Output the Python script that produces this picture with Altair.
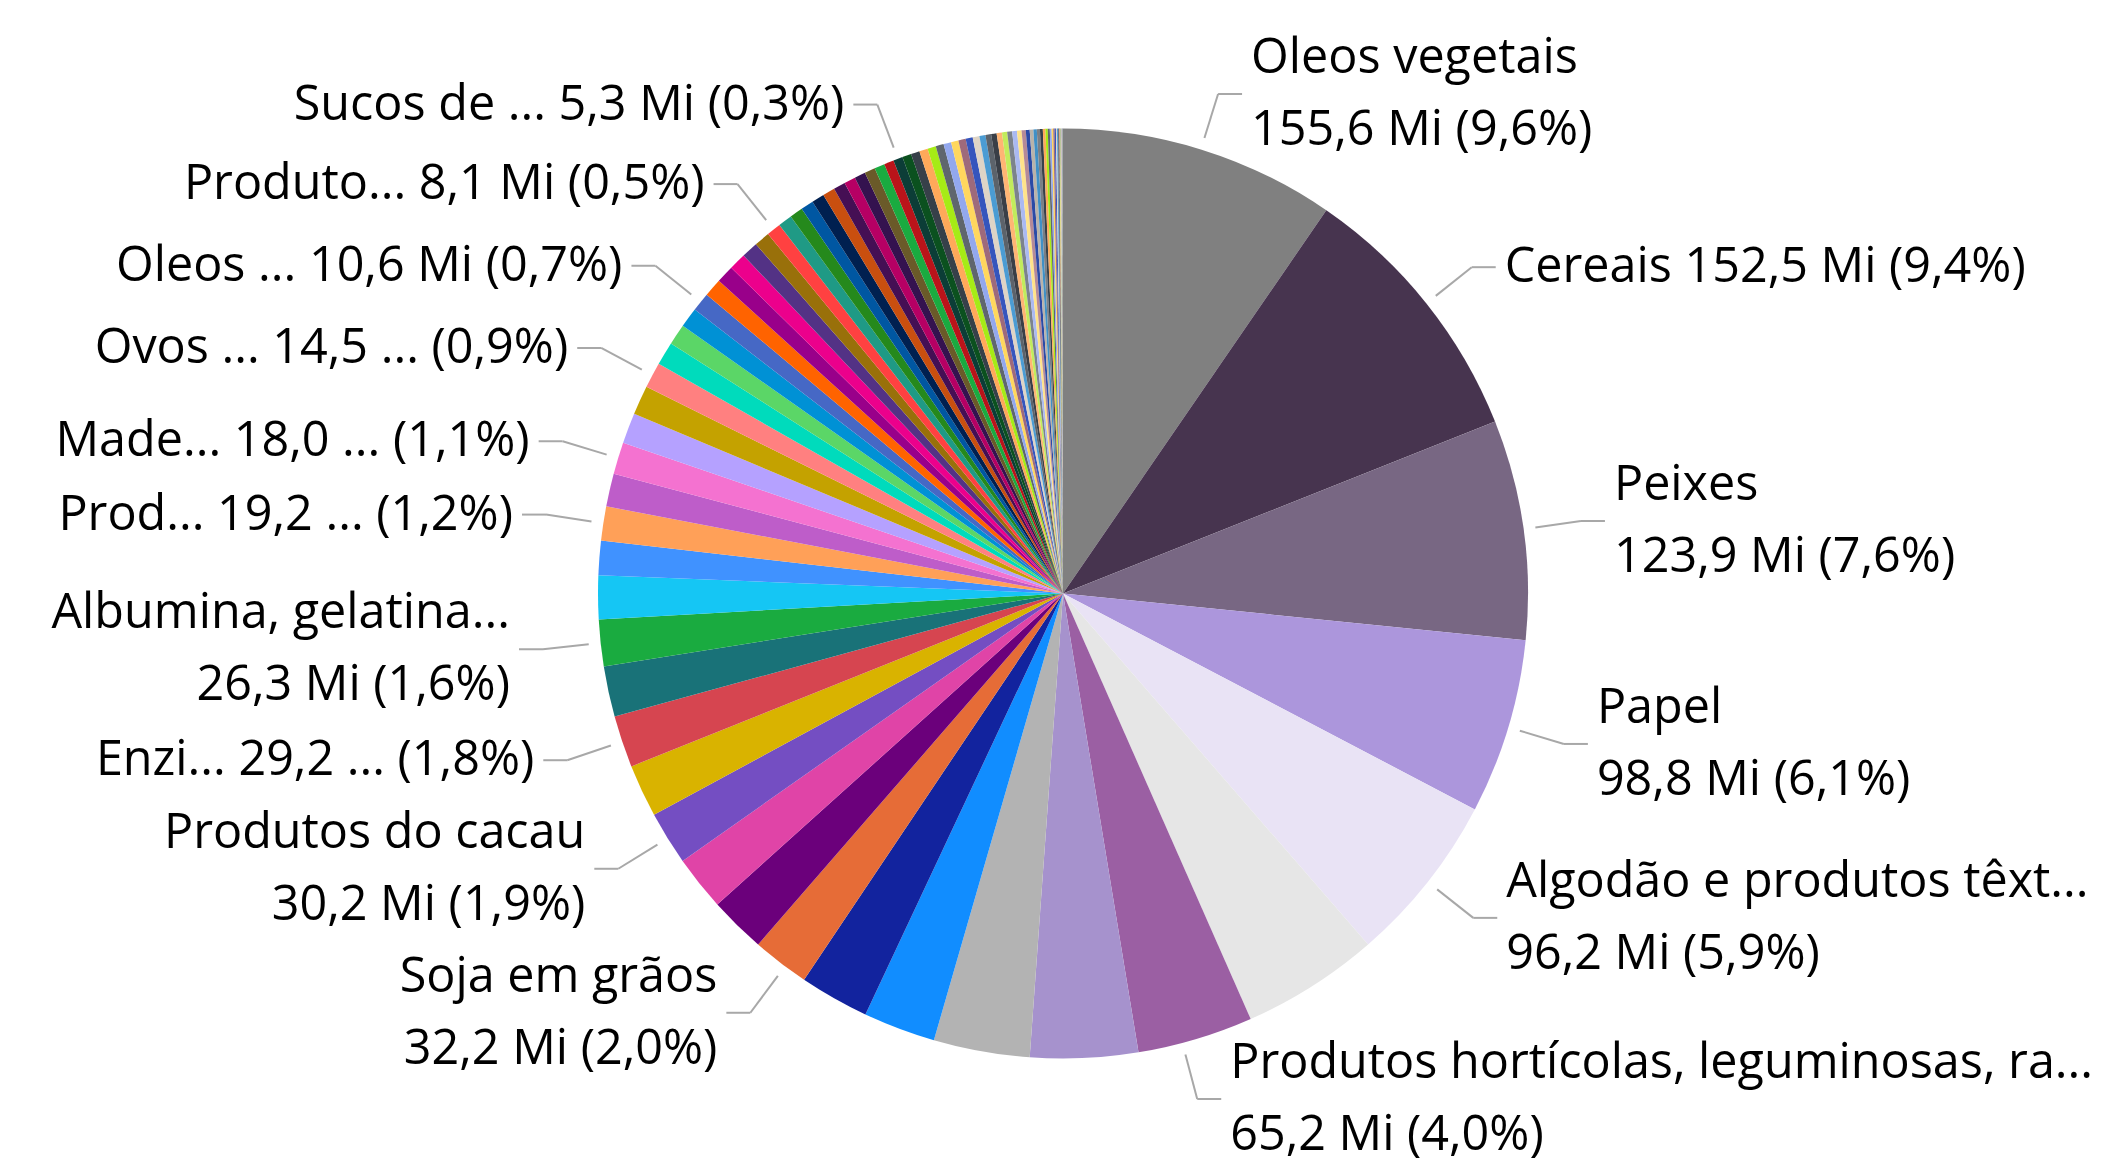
import math
import altair as alt
import pandas as pd

# ---------------- data (values in millions, clockwise from 12 o'clock) ----------------
values = [
    155.6, 152.5, 123.9, 98.8, 96.2, 77.6, 65.2, 60.7, 54.2, 40.7,
    39.2, 32.2, 31.8, 31.0, 30.2, 29.7, 29.2, 28.5, 26.3, 24.6,
    19.4, 19.2, 18.6, 18.0, 17.2, 16.5, 14.5, 13.2, 11.8, 11.2,
    10.6, 10.3, 10.0, 9.6, 9.3, 8.8, 8.1, 7.9, 7.4, 7.2,
    7.1, 6.9, 6.7, 6.4, 6.2, 6.0, 5.8, 5.5, 5.3, 5.1,
    4.9, 4.8, 4.7, 4.5, 4.3, 4.2, 4.1, 4.0, 3.8, 3.4,
    3.2, 3.1, 3.0, 2.9, 2.8, 2.7, 2.55, 2.35, 2.2, 2.05,
    1.9, 1.75, 1.6, 1.45, 1.3, 1.15, 1.0, 0.9, 0.8, 0.7,
    0.6, 0.52, 0.45, 0.39, 0.33, 0.28, 0.24, 0.2, 0.17, 0.14,
    0.12, 0.1, 0.08, 0.07, 0.06, 0.05, 0.04, 0.03, 0.025, 0.02,
    0.015, 0.01,
]

theme_colors = [
    "#808080", "#47344F", "#786783", "#AC96DC", "#E9E3F5", "#E6E6E6",
    "#9B5FA3", "#A692CD", "#B3B3B3",
    "#118DFF", "#12239E", "#E66C37", "#6B007B", "#E044A7", "#744EC2",
    "#D9B300", "#D64550", "#197278", "#1AAB40", "#15C6F4", "#4092FF",
    "#FFA058", "#BE5DC9", "#F472D0", "#B5A1FF", "#C4A200", "#FF8080",
    "#00DBBC", "#5BD667", "#0091D5", "#4668C5", "#FF6300", "#99008A",
    "#EC008C", "#533285", "#99700A", "#FF4141", "#1F9A85", "#25891C",
    "#0057A2", "#002050", "#C94F0F", "#450F54", "#B60064", "#34124F",
    "#6A5A29", "#1AAB40", "#BA141A", "#0C3D37", "#0B511F",
]
cycle_a = ["#374049", "#FFA95A", "#A6EB16", "#5F666D", "#93A8EE", "#FFD75E",
           "#9E6A7B", "#3555BD", "#DED4C6", "#4B9CD3", "#5C636B"]
cycle_b = ["#3A3F47", "#FFB574", "#C2EC5C", "#7C838C", "#AAB9F2", "#FFE38A",
           "#B58A98", "#2B4AA6", "#B9B3AA", "#4090C6", "#7A7F86"]

label_index = [0, 1, 2, 3, 4, 6, 11, 14, 16, 18, 21, 23, 26, 30, 36, 48]
label_names = [
    "Oleos vegetais", "Cereais", "Peixes", "Papel", "Algodão e produtos têxt...",
    "Produtos hortícolas, leguminosas, ra...", "Soja em grãos", "Produtos do cacau",
    "Enzi...", "Albumina, gelatina...", "Prod...", "Made...", "Ovos ...",
    "Oleos ...", "Produto...", "Sucos de ...",
]
label_rows = [2, 1, 2, 2, 2, 2, 2, 2, 1, 2, 1, 1, 1, 1, 1, 1]
label_units = ["Mi", "Mi", "Mi", "Mi", "Mi", "Mi", "Mi", "Mi", "...", "Mi",
               "...", "...", "...", "Mi", "Mi", "Mi"]

# ---------------- layout constants ----------------
W, H = 2085, 1155
CX, CY = 1055.0, 585.5
R = 465
R_LEAD = 477
R_ELBOW = 523
HSEG = 24
GAP = 9
LINE_H = 72
FONT = 48.5
FONT_NAME = "Open Sans"
EDGE = 2

# approximate Open Sans advance widths (em) used to keep labels inside the canvas
_w = {" ": .26, ",": .245, ".": .266, "(": .296, ")": .296, "%": .823,
      "i": .258, "l": .258, "í": .258, "j": .258, "f": .336, "t": .352, "r": .408,
      "s": .479, "c": .479, "z": .473, "m": .93, "w": .774, "v": .5, "y": .5,
      "x": .524, "k": .53, "a": .556, "ã": .556, "e": .561, "ê": .561, "g": .553,
      "o": .602, "M": .907, "O": .778, "C": .632, "A": .633, "P": .603, "S": .549,
      "E": .556}


def text_width(s):
    tot = 0.0
    for ch in s:
        if ch.isdigit():
            tot += .572
        elif ch in _w:
            tot += _w[ch]
        elif ch.isupper():
            tot += .65
        else:
            tot += .6
    return tot * FONT


colors = list(theme_colors)
k = 0
while len(colors) < len(values):
    cyc = cycle_a if (k // len(cycle_a)) % 2 == 0 else cycle_b
    colors.append(cyc[k % len(cyc)])
    k += 1

cats = [f"c{i:03d}" for i in range(len(values))]
pie_df = pd.DataFrame({"cat": cats, "value": values, "idx": list(range(len(values)))})

total = sum(values)
starts, ends = [], []
acc = 0.0
for v in values:
    starts.append(acc / total * 2 * math.pi)
    acc += v
    ends.append(acc / total * 2 * math.pi)


def fmt(x):
    return f"{x:.1f}".replace(".", ",")


labels = []
for n, i in enumerate(label_index):
    mid = (starts[i] + ends[i]) / 2
    side = "R" if mid < math.pi else "L"
    v = values[i]
    pct = fmt(v / total * 100)
    if label_rows[n] == 2:
        lines = [label_names[n], f"{fmt(v)} {label_units[n]} ({pct}%)"]
    else:
        lines = [f"{label_names[n]} {fmt(v)} {label_units[n]} ({pct}%)"]
    y = CY - R_ELBOW * math.cos(mid)
    # move the label up/down until its text fits between the pie and the edge
    wmax = max(text_width(t) for t in lines)
    if side == "R":
        dx_max = (W - EDGE - wmax - HSEG - GAP) - CX
    else:
        dx_max = CX - (EDGE + wmax + HSEG + GAP)
    if dx_max < R_ELBOW:
        need = math.sqrt(R_ELBOW ** 2 - max(dx_max, 0) ** 2)
        if abs(y - CY) < need:
            y = CY + (need if math.cos(mid) < 0 else -need)
    labels.append({"n": n, "i": i, "mid": mid, "side": side, "y": y,
                   "h": label_rows[n] * LINE_H, "lines": lines})

# resolve overlaps per side (top-down push)
for side in ("R", "L"):
    grp = sorted([l for l in labels if l["side"] == side], key=lambda d: d["y"])
    prev_bottom = -1e9
    for l in grp:
        top = l["y"] - l["h"] / 2
        if top < prev_bottom:
            l["y"] += prev_bottom - top
        prev_bottom = l["y"] + l["h"] / 2

rule_rows, text_rows = [], []
for l in labels:
    n, i = l["n"], l["i"]
    y = l["y"]
    dy = y - CY
    dx = math.sqrt(max(R_ELBOW ** 2 - dy ** 2, 0.0))
    sgn = 1 if l["side"] == "R" else -1
    ex = CX + sgn * dx
    ang = math.atan2(ex - CX, CY - y) % (2 * math.pi)
    w = ends[i] - starts[i]
    lo, hi = starts[i] + 0.15 * w, ends[i] - 0.15 * w
    ang = min(max(ang, lo), hi)
    sx = CX + R_LEAD * math.sin(ang)
    sy = CY - R_LEAD * math.cos(ang)
    rule_rows.append({"x": sx, "y": sy, "x2": ex, "y2": y})
    rule_rows.append({"x": ex, "y": y, "x2": ex + sgn * HSEG, "y2": y})

    tx = ex + sgn * (HSEG + GAP)
    if len(l["lines"]) == 2:
        ys = [y - LINE_H / 2, y + LINE_H / 2]
    else:
        ys = [y]
    for t, yy in zip(l["lines"], ys):
        text_rows.append({"x": tx, "y": yy, "text": t, "side": l["side"]})

rule_df = pd.DataFrame(rule_rows)
text_df = pd.DataFrame(text_rows)

xs = alt.Scale(domain=[0, W], range=[0, W], nice=False, zero=False)
ys_ = alt.Scale(domain=[0, H], range=[0, H], nice=False, zero=False)

pie = alt.Chart(pie_df).mark_arc(outerRadius=R).encode(
    theta=alt.Theta("value:Q", stack=True),
    color=alt.Color("cat:N", scale=alt.Scale(domain=cats, range=colors), legend=None),
    order=alt.Order("idx:Q", sort="ascending"),
    x=alt.value(CX),
    y=alt.value(CY),
)

rules = alt.Chart(rule_df).mark_rule(color="#A8A8A8", strokeWidth=2).encode(
    x=alt.X("x:Q", scale=xs, axis=None),
    y=alt.Y("y:Q", scale=ys_, axis=None),
    x2="x2:Q",
    y2="y2:Q",
)

text_r = alt.Chart(text_df[text_df.side == "R"]).mark_text(
    align="left", baseline="middle", font=FONT_NAME, fontSize=FONT, color="#000000"
).encode(
    x=alt.X("x:Q", scale=xs, axis=None),
    y=alt.Y("y:Q", scale=ys_, axis=None),
    text="text:N",
)

text_l = alt.Chart(text_df[text_df.side == "L"]).mark_text(
    align="right", baseline="middle", font=FONT_NAME, fontSize=FONT, color="#000000"
).encode(
    x=alt.X("x:Q", scale=xs, axis=None),
    y=alt.Y("y:Q", scale=ys_, axis=None),
    text="text:N",
)

chart = alt.layer(pie, rules, text_r, text_l).properties(
    width=W, height=H, padding=0,
    autosize=alt.AutoSizeParams(type="none"),
    background="white",
).configure_view(strokeWidth=0)

chart.save("out.html", embed_options={"renderer": "svg", "actions": False})
